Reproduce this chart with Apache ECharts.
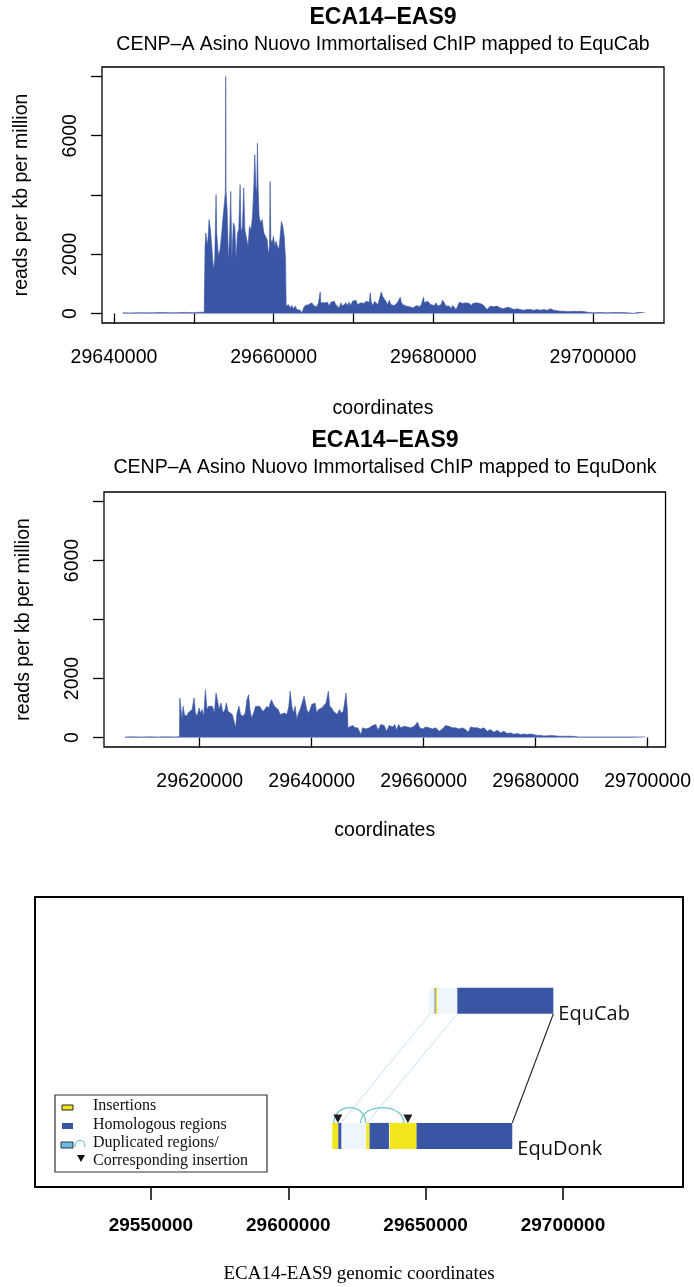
<!DOCTYPE html>
<html>
<head>
<meta charset="utf-8">
<script src="https://cdn.jsdelivr.net/npm/echarts@6/dist/echarts.min.js"></script>
<style>
  html, body { margin: 0; padding: 0; background: #ffffff; }
  #chart { width: 694px; height: 1287px; }
</style>
</head>
<body>
<div id="chart"></div>
<script>
// ---- CENP-A ChIP coverage mapped to EquCab (position bp, reads per kb per million) ----
const cabPos = [
  29641100, 29642000, 29643000, 29644000, 29645000, 29646000, 29647000, 29648000, 29649000, 29650000, 29650800, 29651300,
  29651410, 29651500, 29651620, 29651750, 29651910, 29652040, 29652250, 29652460, 29652620, 29652750, 29652790, 29652870,
  29653080, 29653290, 29653500, 29653670, 29653840, 29653960, 29654000, 29654040, 29654170, 29654340, 29654500, 29654630,
  29654760, 29654960, 29655130, 29655300, 29655470, 29655630, 29655800, 29655920, 29656090, 29656260, 29656390, 29656590,
  29656800, 29656970, 29657180, 29657350, 29657510, 29657640, 29657770, 29657890, 29657970, 29658060, 29658180, 29658350,
  29658560, 29658770, 29658980, 29659190, 29659350, 29659480, 29659560, 29659650, 29659810, 29659980, 29660150, 29660310,
  29660480, 29660650, 29660820, 29660980, 29661150, 29661320, 29661490, 29661570,
  29661650, 29661860, 29662070, 29662280, 29662490, 29662700, 29662900, 29663120, 29663330, 29663540, 29663750, 29663960,
  29664170, 29664370, 29664580, 29664790, 29665000, 29665210, 29665420, 29665620, 29665830, 29665910, 29666120, 29666330,
  29666540, 29666750, 29666960, 29667170, 29667380, 29667590, 29667790, 29668000, 29668210, 29668420, 29668630, 29668840,
  29669050, 29669260, 29669460, 29669670, 29669880, 29670090, 29670300, 29670510, 29670720, 29670930, 29671140, 29671350,
  29671560, 29671770, 29671980, 29672100, 29672230, 29672440, 29672650, 29672860, 29673060, 29673270, 29673480, 29673650,
  29673860, 29674070, 29674280, 29674490, 29674700, 29674910, 29675120, 29675330, 29675540, 29675740, 29675860, 29675990,
  29676200, 29676410, 29676620, 29676830, 29677040, 29677250, 29677460, 29677670, 29677880, 29678080, 29678290, 29678500,
  29678710, 29678790, 29678870, 29679080, 29679290, 29679500, 29679710, 29679920, 29680130, 29680340, 29680550, 29680750,
  29680960, 29681170, 29681380, 29681590, 29681800, 29682010, 29682220, 29682430, 29682640, 29682850, 29683060, 29683270,
  29683480, 29683690, 29683900, 29684110, 29684320, 29684530, 29684740, 29684950, 29685160, 29685370, 29685580, 29685900,
  29686310, 29686730, 29687150, 29687570, 29687990, 29688400, 29688820, 29689240, 29689660, 29690080, 29690490, 29690910,
  29691330, 29691750, 29692170, 29692590, 29693000, 29693420, 29693840, 29694260, 29694680, 29695100, 29695520, 29695930,
  29696350, 29696770, 29697190, 29697610, 29698030, 29698450, 29698870, 29699280, 29699700, 29700120, 29700960, 29701800,
  29702630, 29703470, 29704310, 29705140, 29705560, 29706460
];
const cabReads = [
  25, 20, 30, 22, 28, 35, 25, 30, 38, 30, 45, 40,
  2270, 2720, 2490, 2330, 3170, 2940, 2270, 1480, 1820, 3500, 4010, 2720,
  1930, 2160, 2720, 3280, 3730, 4120, 8000, 4120, 3500, 1760, 2720, 4120,
  1820, 3060, 2940, 1820, 2720, 2830, 4350, 2720, 2940, 4240, 2830, 2780,
  2270, 2940, 2830, 3280, 4240, 5360, 4290, 4070, 5750, 4180, 3280, 3060,
  3170, 2720, 2610, 2490, 1990, 2270, 4460, 2490, 2380, 2610, 2270, 2440,
  2270, 2160, 2610, 3110, 2940, 2610, 1820, 250,
  250, 300, 190, 270, 160, 250, 135, 190, 110, 20, 190, 270,
  225, 300, 250, 360, 270, 300, 225, 360, 730, 360, 415, 360,
  300, 380, 250, 380, 415, 415, 300, 250, 190, 360, 250, 300,
  360, 270, 380, 270, 415, 360, 450, 300, 250, 360, 380, 340,
  415, 360, 380, 700, 380, 270, 415, 360, 300, 250, 730, 580,
  490, 415, 300, 450, 300, 360, 270, 300, 380, 415, 550, 380,
  300, 270, 250, 270, 225, 250, 190, 225, 270, 250, 225, 300,
  360, 560, 360, 380, 415, 360, 300, 250, 270, 360, 250, 190,
  300, 450, 360, 250, 225, 250, 160, 270, 225, 135, 250, 380,
  415, 340, 300, 360, 300, 340, 270, 340, 300, 360, 300, 340,
  270, 135, 250, 225, 250, 190, 160, 210, 190, 135, 160, 135,
  110, 135, 135, 110, 135, 110, 135, 110, 160, 110, 90, 80,
  80, 65, 65, 80, 65, 80, 65, 45, 35, 25, 35, 25,
  35, 35, 25, 5, 35, 35
];

// ---- CENP-A ChIP coverage mapped to EquDonk ----
const donkPos = [
  29606640, 29608000, 29609500, 29611000, 29612500, 29614000, 29615500, 29616380,
  29616440, 29616620, 29616850, 29617030, 29617270, 29617630, 29617920, 29618220, 29618640, 29618990, 29619230, 29619530,
  29619880, 29620120, 29620420, 29620710, 29621010, 29621310, 29621600, 29621900, 29622260, 29622610, 29622910, 29623150,
  29623440, 29623800, 29624160, 29624510, 29624750, 29625050, 29625340, 29625820, 29626120, 29626410, 29626650, 29627010,
  29627300, 29627720, 29628130, 29628430, 29628730, 29628970, 29629260, 29629620, 29629980, 29630330, 29630690, 29631040,
  29631400, 29631700, 29631990, 29632350, 29632590, 29632820, 29633060, 29633360, 29633660, 29634010, 29634370, 29634720,
  29635140, 29635560, 29635910, 29636150, 29636450, 29636740, 29637040, 29637340, 29637630, 29637930, 29638290, 29638640,
  29638880, 29639120, 29639420, 29639710, 29640010, 29640310, 29640600, 29640900, 29641200, 29641490, 29641790, 29642090,
  29642560, 29642980, 29643210, 29643570, 29643870, 29644220, 29644580, 29644940, 29645290, 29645650, 29645890, 29646120,
  29646360, 29646480,
  29646720, 29647310, 29647790, 29648200, 29648800, 29649090, 29649690, 29650280, 29650870, 29651470, 29651820, 29652360,
  29652950, 29653370, 29653840, 29654440, 29654850, 29655150, 29655500, 29655920, 29656510, 29657110, 29657700, 29658290,
  29658890, 29659300, 29659780, 29660370, 29660970, 29661560, 29662150, 29662750, 29663340, 29663930, 29664530, 29665120,
  29665720, 29666310, 29666900, 29667500, 29667970, 29668390, 29668980, 29669580, 29670170, 29670760, 29671360, 29671950,
  29672540, 29673140, 29673730, 29674320, 29674920, 29675510, 29676110, 29676700, 29677290, 29677890, 29678480, 29679070,
  29679670, 29680260, 29680860, 29681450, 29682930, 29684120, 29685310, 29686490, 29687680, 29690060, 29692430, 29694800,
  29697180, 29699550
];
const donkReads = [
  20, 25, 18, 25, 20, 25, 22, 30,
  1340, 1340, 610, 1060, 780, 720, 830, 780, 950, 1340, 830, 720,
  1000, 830, 950, 720, 1620, 950, 1060, 1000, 1060, 830, 1510, 1280,
  950, 1170, 830, 950, 1170, 890, 830, 780, 720, 330, 830, 1060,
  780, 720, 830, 1280, 1450, 950, 660, 830, 1060, 1000, 1060, 950,
  890, 950, 1060, 1000, 1170, 1280, 1170, 1060, 1000, 950, 780, 830,
  830, 780, 1060, 1570, 1060, 830, 1060, 610, 830, 950, 1170, 1400,
  1450, 950, 830, 950, 1120, 1060, 1170, 830, 950, 1000, 1000, 1060,
  1170, 1570, 1060, 1000, 890, 950, 780, 950, 830, 890, 950, 1510,
  950, 330,
  270, 410, 330, 330, 100, 330, 290, 330, 410, 440, 250, 440,
  410, 210, 410, 360, 440, 250, 440, 330, 380, 360, 330, 380,
  520, 330, 290, 360, 330, 290, 330, 210, 290, 410, 380, 330,
  330, 290, 330, 270, 180, 360, 330, 330, 290, 330, 210, 270,
  180, 250, 160, 210, 135, 160, 110, 135, 100, 120, 100, 120,
  100, 70, 80, 55, 68, 45, 45, 45, 22, 22, 22, 22,
  22, 22
];

// ---- axis ticks ----
const cabTicks = [29640000, 29650000, 29660000, 29670000, 29680000, 29690000, 29700000];
const cabTickLabels = [29640000, 29660000, 29680000, 29700000];
const donkTicks = [29620000, 29640000, 29660000, 29680000, 29700000];
const readTicks = [0, 2000, 4000, 6000, 8000];
const readTickLabels = [0, 2000, 6000];
const genomeTicks = [29550000, 29600000, 29650000, 29700000];

// ---- alignment schematic (genomic bp) ----
// segment kinds: 'ins' insertion, 'hom' homologous, 'dup' duplicated
const cabSegments = [
  [29651200, 29653280, 'dup'],
  [29653280, 29653640, 'hom'],
  [29653640, 29654250, 'ins'],
  [29654250, 29661540, 'dup'],
  [29661540, 29696500, 'hom']
];
const donkSegments = [
  [29616000, 29618200, 'ins'],
  [29618200, 29619400, 'hom'],
  [29619400, 29628400, 'dup'],
  [29628400, 29629600, 'ins'],
  [29629600, 29636650, 'hom'],
  [29636900, 29646700, 'ins'],
  [29646700, 29681550, 'hom']
];
// [EquCab position, EquDonk position]
const dupLinks = [[29651600, 29619200], [29661540, 29628700]];
const endLink = [29696500, 29681550];
// duplicated copy -> corresponding insertion arcs on EquDonk
const dupArcs = [[29616600, 29628150], [29626330, 29642100]];
const insertionMarks = [29618060, 29643550];
const trackNames = ['EquCab', 'EquDonk'];

// ---- styling / layout ----
const BLUE = '#3A55A4';
const SEG_COLOR = { ins: '#F2E71C', hom: BLUE, dup: '#EEF6FB' };
const SANS = '"Liberation Sans", Arial, Helvetica, sans-serif';
const SERIF = '"Liberation Serif", "Times New Roman", serif';
// schematic y-axis spans 0..10; track bottoms and height in those units
const TRACK_BASE = [5.97, 1.31];
const TRACK_H = 0.9;

const chart = echarts.init(document.getElementById('chart'), null, { renderer: 'canvas' });

function pairs(xs, ys) { return xs.map((x, i) => [x, ys[i]]); }
const plain = v => String(v);

function coverageXAxis(grid, min, max, ticks, labels, gap) {
  return {
    type: 'value', gridIndex: grid, min: min, max: max,
    name: 'coordinates', nameLocation: 'middle', nameGap: gap,
    nameTextStyle: { fontFamily: SANS, fontSize: 19.5, color: '#000' },
    axisLine: { show: false },
    axisTick: { show: true, length: 10, customValues: ticks, lineStyle: { color: '#000', width: 1.3 } },
    axisLabel: { customValues: labels, formatter: plain, margin: 25, fontFamily: SANS, fontSize: 19.5, color: '#000' },
    splitLine: { show: false }
  };
}
function coverageYAxis(grid) {
  return {
    type: 'value', gridIndex: grid, min: -320, max: 8320,
    name: 'reads per kb per million', nameLocation: 'middle', nameGap: 70,
    nameTextStyle: { fontFamily: SANS, fontSize: 19.5, color: '#000' },
    axisLine: { show: false },
    axisTick: { show: true, length: 11, customValues: readTicks, lineStyle: { color: '#000', width: 1.3 } },
    axisLabel: { customValues: readTickLabels, rotate: 90, formatter: plain, margin: 21, fontFamily: SANS, fontSize: 19.5, color: '#000' },
    splitLine: { show: false }
  };
}
function coverageSeries(idx, data) {
  return {
    type: 'line', xAxisIndex: idx, yAxisIndex: idx, data: data,
    showSymbol: false, symbol: 'none', smooth: false,
    lineStyle: { color: BLUE, width: 0.6 },
    areaStyle: { color: BLUE, opacity: 1, origin: 'auto' },
    animation: false, silent: true
  };
}

const KINDS = ['ins', 'hom', 'dup'];
const segData = [];
cabSegments.forEach(s => segData.push([s[0], s[1], 0, KINDS.indexOf(s[2])]));
donkSegments.forEach(s => segData.push([s[0], s[1], 1, KINDS.indexOf(s[2])]));

const linkData = dupLinks.map(l => [l[0], l[1], 0]).concat([[endLink[0], endLink[1], 1]]);
const trackEnds = [
  Math.max.apply(null, cabSegments.map(s => s[1])),
  Math.max.apply(null, donkSegments.map(s => s[1]))
];

const option = {
  backgroundColor: '#ffffff',
  animation: false,
  grid: [
    { left: 102, top: 67, width: 562, height: 256, show: true, borderColor: '#000', borderWidth: 1.3, backgroundColor: 'transparent' },
    { left: 104, top: 492, width: 563, height: 255, show: true, borderColor: '#000', borderWidth: 1.3, backgroundColor: 'transparent' },
    { left: 35, top: 897, width: 648, height: 290, show: true, borderColor: '#000', borderWidth: 2, backgroundColor: 'transparent' }
  ],
  xAxis: [
    coverageXAxis(0, 29638500, 29708900, cabTicks, cabTickLabels, 76),
    coverageXAxis(1, 29602900, 29703200, donkTicks, donkTicks, 74),
    {
      type: 'value', gridIndex: 2, min: 29507800, max: 29743700,
      name: 'ECA14-EAS9 genomic coordinates', nameLocation: 'middle', nameGap: 78,
      nameTextStyle: { fontFamily: SERIF, fontSize: 19, color: '#000' },
      axisLine: { show: false },
      axisTick: { show: true, length: 13, customValues: genomeTicks, lineStyle: { color: '#000', width: 1.5 } },
      axisLabel: { customValues: genomeTicks, formatter: plain, margin: 29, fontFamily: SANS, fontWeight: 'bold', fontSize: 19, color: '#000' },
      splitLine: { show: false }
    }
  ],
  yAxis: [
    coverageYAxis(0),
    coverageYAxis(1),
    { type: 'value', gridIndex: 2, min: 0, max: 10, show: false }
  ],
  graphic: [
    { type: 'text', x: 383, y: 18, style: { text: 'ECA14\u2013EAS9', font: 'bold 23px ' + SANS, fill: '#000', align: 'center', verticalAlign: 'middle' } },
    { type: 'text', x: 383, y: 45, style: { text: 'CENP\u2013A Asino Nuovo Immortalised ChIP mapped to EquCab', font: '19.5px ' + SANS, fill: '#000', align: 'center', verticalAlign: 'middle' } },
    { type: 'text', x: 385, y: 441, style: { text: 'ECA14\u2013EAS9', font: 'bold 23px ' + SANS, fill: '#000', align: 'center', verticalAlign: 'middle' } },
    { type: 'text', x: 385, y: 468, style: { text: 'CENP\u2013A Asino Nuovo Immortalised ChIP mapped to EquDonk', font: '19.5px ' + SANS, fill: '#000', align: 'center', verticalAlign: 'middle' } },
    // legend of the schematic
    { type: 'rect', shape: { x: 55, y: 1095, width: 212, height: 77 }, style: { fill: '#fff', stroke: '#333', lineWidth: 1.2 } },
    { type: 'rect', shape: { x: 62, y: 1105, width: 11, height: 5 }, style: { fill: '#F2E71C', stroke: '#222', lineWidth: 1 } },
    { type: 'rect', shape: { x: 62, y: 1123, width: 11, height: 6 }, style: { fill: BLUE } },
    { type: 'rect', shape: { x: 61, y: 1142, width: 12, height: 6 }, style: { fill: '#6ABCE6', stroke: '#333', lineWidth: 1 } },
    { type: 'bezierCurve', shape: { x1: 75, y1: 1147, cpx1: 75, cpy1: 1138, cpx2: 85, cpy2: 1138, x2: 85, y2: 1147 }, style: { stroke: '#6CC7CB', lineWidth: 1.2, fill: null } },
    { type: 'polygon', shape: { points: [[77, 1155], [85, 1155], [81, 1162]] }, style: { fill: '#111' } },
    { type: 'text', x: 93, y: 1106, style: { text: 'Insertions', font: '16px ' + SERIF, fill: '#111', verticalAlign: 'middle' } },
    { type: 'text', x: 93, y: 1125, style: { text: 'Homologous regions', font: '16px ' + SERIF, fill: '#111', verticalAlign: 'middle' } },
    { type: 'text', x: 93, y: 1143, style: { text: 'Duplicated regions/', font: '16px ' + SERIF, fill: '#111', verticalAlign: 'middle' } },
    { type: 'text', x: 93, y: 1161, style: { text: 'Corresponding insertion', font: '16px ' + SERIF, fill: '#111', verticalAlign: 'middle' } }
  ],
  series: [
    coverageSeries(0, pairs(cabPos, cabReads)),
    coverageSeries(1, pairs(donkPos, donkReads)),
    // links between homologous positions of the two assemblies
    {
      type: 'custom', xAxisIndex: 2, yAxisIndex: 2, data: linkData, encode: { x: [0, 1] }, silent: true,
      renderItem: function (params, api) {
        const top = api.coord([api.value(0), TRACK_BASE[0]]);
        const bot = api.coord([api.value(1), TRACK_BASE[1] + TRACK_H]);
        const dark = api.value(2) === 1;
        return { type: 'line', shape: { x1: top[0], y1: top[1], x2: bot[0], y2: bot[1] },
          style: { stroke: dark ? '#222' : '#C4E3F3', lineWidth: dark ? 1.2 : 1 } };
      }
    },
    // track segments
    {
      type: 'custom', xAxisIndex: 2, yAxisIndex: 2, data: segData, encode: { x: [0, 1] }, silent: true,
      renderItem: function (params, api) {
        const t = api.value(2);
        const p0 = api.coord([api.value(0), TRACK_BASE[t] + TRACK_H]);
        const p1 = api.coord([api.value(1), TRACK_BASE[t]]);
        return { type: 'rect', shape: { x: p0[0], y: p0[1], width: p1[0] - p0[0], height: p1[1] - p0[1] },
          style: { fill: SEG_COLOR[KINDS[api.value(3)]] } };
      }
    },
    // duplication arcs
    {
      type: 'custom', xAxisIndex: 2, yAxisIndex: 2, data: dupArcs, encode: { x: [0, 1] }, silent: true,
      renderItem: function (params, api) {
        const a = api.coord([api.value(0), TRACK_BASE[1] + TRACK_H]);
        const b = api.coord([api.value(1), TRACK_BASE[1] + TRACK_H]);
        const c = api.coord([api.value(0), TRACK_BASE[1] + TRACK_H + 0.7]);
        return { type: 'bezierCurve', shape: { x1: a[0], y1: a[1], cpx1: a[0], cpy1: c[1], cpx2: b[0], cpy2: c[1], x2: b[0], y2: b[1] },
          style: { stroke: '#6CC7CB', lineWidth: 1.3, fill: null } };
      }
    },
    // corresponding-insertion markers
    {
      type: 'custom', xAxisIndex: 2, yAxisIndex: 2, data: insertionMarks.map(v => [v]), encode: { x: 0 }, silent: true,
      renderItem: function (params, api) {
        const p = api.coord([api.value(0), TRACK_BASE[1] + TRACK_H]);
        return { type: 'polygon', shape: { points: [[p[0] - 4.5, p[1] - 8.5], [p[0] + 4.5, p[1] - 8.5], [p[0], p[1]]] },
          style: { fill: '#1E1E1E' } };
      }
    },
    // assembly names at the end of each track
    {
      type: 'custom', xAxisIndex: 2, yAxisIndex: 2, data: trackEnds.map((v, i) => [v, i]), encode: { x: 0 }, silent: true,
      renderItem: function (params, api) {
        const i = api.value(1);
        const p = api.coord([api.value(0), TRACK_BASE[i]]);
        return { type: 'text', x: p[0] + 5, y: p[1],
          style: { text: trackNames[i], font: '20px "Open Sans", "Noto Sans", sans-serif', fill: '#111', align: 'left', verticalAlign: 'middle' } };
      }
    }
  ]
};

chart.setOption(option);
</script>
</body>
</html>
